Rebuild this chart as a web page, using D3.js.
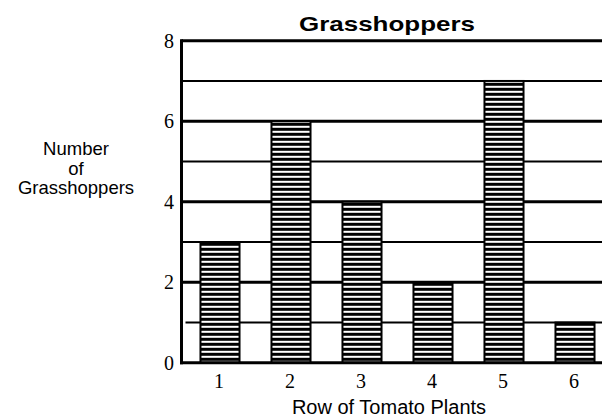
<!DOCTYPE html>
<html>
<head>
<meta charset="utf-8">
<script src="https://cdn.jsdelivr.net/npm/d3@7"></script>
<style>
html,body{margin:0;padding:0;background:#fff;}
svg{display:block;}
</style>
</head>
<body>
<svg id="chart" width="602" height="417"></svg>
<script>
const categories = ["1","2","3","4","5","6"];
const values = [3,6,4,2,7,1];
const yTicks = [0,2,4,6,8];
const gridValues = [1,2,3,4,5,6,7,8];
const titleText = "Grasshoppers";
const xTitle = "Row of Tomato Plants";
const yTitleLines = ["Number","of","Grasshoppers"];

(function(){
const svg = d3.select("#chart");
const pLeft = 181.5, pRight = 602, pTop = 40.7, pBottom = 362.8;

const x = d3.scaleBand().domain(categories).range([184.5, 610.5]).paddingInner(0.45).paddingOuter(0.225);
const y = d3.scaleLinear().domain([0,8]).range([pBottom, pTop]);

// stripe pattern
const defs = svg.append("defs");
const pat = defs.append("pattern").attr("id","stripes").attr("patternUnits","userSpaceOnUse")
  .attr("width",10).attr("height",5).attr("y", pBottom);
pat.append("rect").attr("width",10).attr("height",5).attr("fill","#fff");
pat.append("rect").attr("y",0).attr("width",10).attr("height",3).attr("fill","#000");

// grid lines
svg.append("g").selectAll("line").data(gridValues).join("line")
  .attr("x1", d => d === 1 ? pLeft + 4 : pLeft).attr("x2", pRight)
  .attr("y1", d => y(d)).attr("y2", d => y(d))
  .attr("stroke","#000").attr("stroke-width", d => d % 2 === 0 ? 3 : 2);

// bars
svg.append("g").selectAll("rect").data(values).join("rect")
  .attr("x",(d,i)=>x(categories[i])).attr("width",x.bandwidth())
  .attr("y",d=>y(d)).attr("height",d=>y(0)-y(d))
  .attr("fill","url(#stripes)").attr("stroke","#000").attr("stroke-width",2);

// axes lines
svg.append("line").attr("x1",pLeft).attr("x2",pLeft).attr("y1",pTop-1.5).attr("y2",pBottom+1.5)
  .attr("stroke","#000").attr("stroke-width",3);
svg.append("line").attr("x1",pLeft-1.5).attr("x2",pRight).attr("y1",pBottom).attr("y2",pBottom)
  .attr("stroke","#000").attr("stroke-width",3);

// y tick labels
svg.append("g").selectAll("text").data(yTicks).join("text")
  .attr("x",174).attr("y",d=>y(d)+7)
  .attr("text-anchor","end").attr("font-family","Liberation Serif, Times New Roman, serif")
  .attr("font-size",20).text(d=>d);

// x tick labels
svg.append("g").selectAll("text").data(categories).join("text")
  .attr("x",d=>x(d)+x.bandwidth()/2 - 1).attr("y",388)
  .attr("text-anchor","middle").attr("font-family","Liberation Serif, Times New Roman, serif")
  .attr("font-size",20).text(d=>d);

// title
svg.append("text").attr("x",387).attr("y",31).attr("text-anchor","middle")
  .attr("font-family","Liberation Sans, Arial, sans-serif").attr("font-weight","bold")
  .attr("font-size",21).attr("textLength",176).attr("lengthAdjust","spacingAndGlyphs").text(titleText);

// x title
svg.append("text").attr("x",389).attr("y",414).attr("text-anchor","middle")
  .attr("font-family","Liberation Sans, Arial, sans-serif")
  .attr("font-size",20).text(xTitle);

// y title
svg.append("g").selectAll("text").data(yTitleLines).join("text")
  .attr("x",76).attr("y",(d,i)=>155+i*19.5)
  .attr("text-anchor","middle").attr("font-family","Liberation Sans, Arial, sans-serif")
  .attr("font-size",18.5).text(d=>d);
})();
</script>
</body>
</html>
